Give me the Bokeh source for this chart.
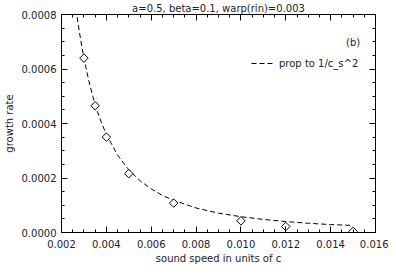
from bokeh.plotting import figure
from bokeh.models import (Range1d, LinearAxis, FixedTicker, PrintfTickFormatter,
                          Label, Legend, LegendItem, ColumnDataSource, CustomLabelingPolicy)
from bokeh.embed import file_html
from bokeh.resources import INLINE
import math

# ---- data ----
title_text = "a=0.5, beta=0.1, warp(rin)=0.003"
x_label = "sound speed in units of c"
y_label = "growth rate"
legend_label = "prop to 1/c_s^2"
panel_tag = "(b)"

sound_speed = [0.003, 0.0035, 0.004, 0.005, 0.007, 0.010, 0.012, 0.015]
growth_rate = [0.00064, 0.000465, 0.00035, 0.000216, 0.000108, 0.000043, 0.000022, 0.000004]

fit_speed = [0.0027, 0.0028, 0.0029, 0.003, 0.0032, 0.0034, 0.0036, 0.0038, 0.004,
             0.0045, 0.005, 0.0055, 0.006, 0.0065, 0.007, 0.008, 0.009, 0.010,
             0.011, 0.012, 0.013, 0.014, 0.015]
fit_rate = [0.00079, 0.000735, 0.000685, 0.00064, 0.000563, 0.000498, 0.000444,
            0.000399, 0.00036, 0.000284, 0.00023, 0.00019, 0.00016, 0.000136,
            0.000118, 0.00009, 0.000071, 0.000058, 0.000048, 0.00004, 0.000034,
            0.000029, 0.000026]

x_ticks = [0.002, 0.004, 0.006, 0.008, 0.010, 0.012, 0.014, 0.016]
y_ticks = [0.0, 0.0002, 0.0004, 0.0006, 0.0008]
x_minor = [0.002 + 0.0005 * i for i in range(29)]
y_minor = [0.00005 * i for i in range(17)]

FONT = "DejaVu Sans"
TXT = "#222222"

p = figure(width=388, height=266, output_backend="svg", toolbar_location=None,
           x_range=Range1d(0.002, 0.016), y_range=Range1d(0.0, 0.0008),
           min_border_left=5, min_border_right=13, min_border_top=2, min_border_bottom=2)
p.background_fill_color = "white"
p.border_fill_color = "white"
p.outline_line_color = "black"
p.grid.visible = False

p.title.text = title_text
p.title.align = "center"
p.title.text_font = FONT
p.title.text_font_size = "10px"
p.title.text_font_style = "normal"
p.title.text_color = TXT
p.title.standoff = 1

no_labels = CustomLabelingPolicy(
    code="for (const i of [...indices.ones()]) { indices.unset(i) }; return indices")

def style_axis(ax, ticks, minor, fmt, show_labels, standoff=5, label_standoff=4):
    ax.ticker = FixedTicker(ticks=ticks, minor_ticks=minor)
    ax.formatter = PrintfTickFormatter(format=fmt)
    ax.axis_line_color = "black"
    ax.major_tick_line_color = "black"
    ax.minor_tick_line_color = "black"
    ax.major_tick_in = 6
    ax.major_tick_out = 0
    ax.minor_tick_in = 3
    ax.minor_tick_out = 0
    ax.major_label_text_font = FONT
    ax.major_label_text_color = TXT
    ax.axis_label_text_font = FONT
    ax.axis_label_text_color = TXT
    ax.axis_label_text_font_style = "normal"
    ax.axis_label_text_font_size = "10px"
    if show_labels:
        ax.major_label_text_font_size = "10px"
        ax.major_label_standoff = standoff
        ax.axis_label_standoff = label_standoff
    else:
        ax.major_label_text_font_size = "0px"
        ax.major_label_policy = no_labels
        ax.major_label_standoff = 0

xa = p.xaxis[0]
ya = p.yaxis[0]
style_axis(xa, x_ticks, x_minor, "%.3f", True, standoff=7, label_standoff=2)
style_axis(ya, y_ticks, y_minor, "%.4f", True)
xa.axis_label = x_label
ya.axis_label = y_label

top_ax = LinearAxis()
right_ax = LinearAxis()
style_axis(top_ax, x_ticks, x_minor, "%.3f", False)
style_axis(right_ax, y_ticks, y_minor, "%.4f", False)
p.add_layout(top_ax, "above")
p.add_layout(right_ax, "right")

fit_src = ColumnDataSource(dict(x=fit_speed, y=fit_rate))
pts_src = ColumnDataSource(dict(x=sound_speed, y=growth_rate))

fit_r = p.line("x", "y", source=fit_src, line_color="black", line_width=1, line_dash="5 3")
p.scatter("x", "y", source=pts_src, marker="square", angle=math.pi / 4, size=6,
          line_color="black", line_width=1, fill_color="white")

legend = Legend(items=[LegendItem(label=legend_label, renderers=[fit_r])],
                location=(190, 163), padding=0, margin=0, spacing=0,
                glyph_width=22, glyph_height=12, label_height=12,
                label_standoff=6, label_text_font=FONT, label_text_font_size="10px",
                label_text_color=TXT, border_line_alpha=0, background_fill_alpha=0)
p.add_layout(legend, "center")

p.add_layout(Label(x=0.01469, y=0.000697, text=panel_tag, text_font=FONT,
                   text_font_size="10px", text_color=TXT, text_baseline="middle",
                   text_align="left"))

open("out.html", "w").write(file_html(p, INLINE))
